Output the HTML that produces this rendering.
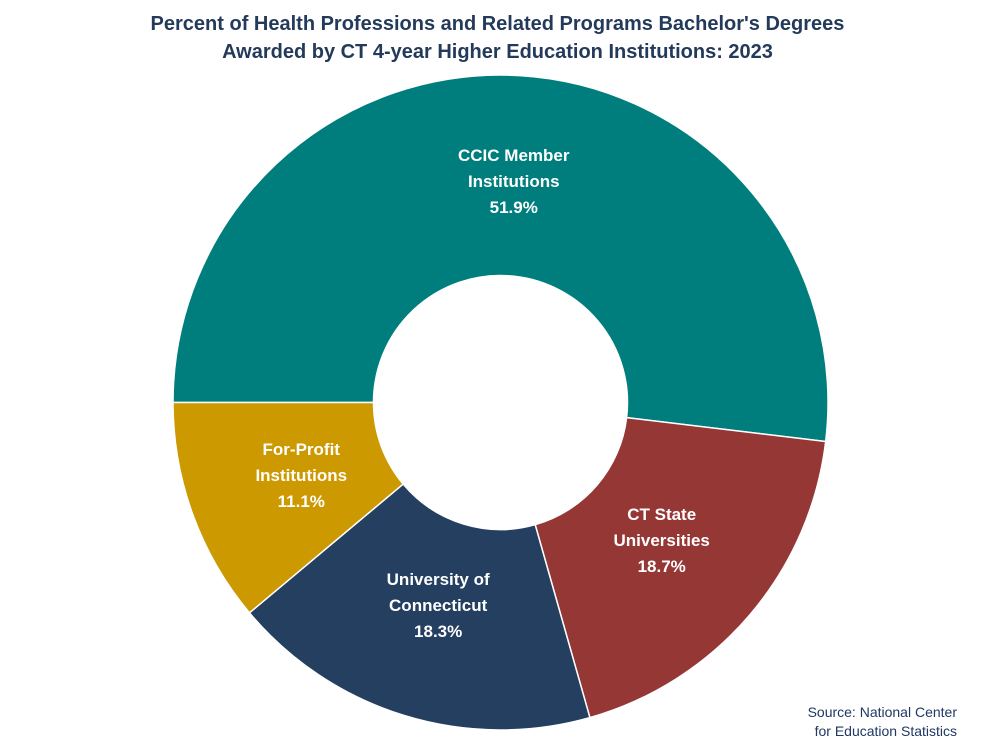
<!DOCTYPE html>
<html><head><meta charset="utf-8"><style>
body{margin:0;background:#fff;font-family:"Liberation Sans",sans-serif;}
#wrap{position:relative;width:995px;height:755px;overflow:hidden;}
.title{position:absolute;top:10px;left:0;width:995px;text-align:center;font-weight:bold;font-size:20px;line-height:28px;color:#243A5A;}
.src{position:absolute;right:38px;top:703px;text-align:right;font-size:14px;line-height:19px;color:#1F3864;}
</style></head><body>
<div id="wrap">
<div class="title">Percent of Health Professions and Related Programs Bachelor's Degrees<br>Awarded by CT 4-year Higher Education Institutions: 2023</div>
<svg id="svg" width="995" height="755" style="position:absolute;left:0;top:0"></svg>
<div class="src">Source: National Center<br>for Education Statistics</div>
</div>
<script>
const categories=[["CCIC Member","Institutions"],["CT State","Universities"],["University of","Connecticut"],["For-Profit","Institutions"]];
const values=[51.9,18.7,18.3,11.1];
const valueLabels=["51.9%","18.7%","18.3%","11.1%"];
const colors=["#007E7E","#953735","#243F60","#CC9900"];
const cx=500.5,cy=402.5,R=327.5,r=127,startDeg=270;
const svg=document.getElementById('svg');
const NS="http://www.w3.org/2000/svg";
const total=values.reduce((a,b)=>a+b,0);
function pt(rad,deg){const a=deg*Math.PI/180;return [cx+rad*Math.sin(a),cy-rad*Math.cos(a)];}
let ang=startDeg;
values.forEach((v,i)=>{
  const sweep=v/total*360,a0=ang,a1=ang+sweep;ang=a1;
  const [x0,y0]=pt(R,a0),[x1,y1]=pt(R,a1),[x2,y2]=pt(r,a1),[x3,y3]=pt(r,a0);
  const lg=sweep>180?1:0;
  const p=document.createElementNS(NS,'path');
  p.setAttribute('d',`M${x0},${y0}A${R},${R} 0 ${lg} 1 ${x1},${y1}L${x2},${y2}A${r},${r} 0 ${lg} 0 ${x3},${y3}Z`);
  p.setAttribute('fill',colors[i]);p.setAttribute('stroke','#fff');p.setAttribute('stroke-width','1.5');
  
  
  svg.appendChild(p);
  const mid=(a0+a1)/2;const lr=i==0?222:212;
  const [lx,ly]=pt(lr,mid);
  const t=document.createElementNS(NS,'text');
  t.setAttribute('text-anchor','middle');t.setAttribute('fill','#fff');
  t.setAttribute('font-weight','bold');t.setAttribute('font-size','17');
  t.setAttribute('font-family','"Liberation Sans",sans-serif');
  
  
  const lines=[categories[i][0],categories[i][1],valueLabels[i]];
  lines.forEach((s,k)=>{const ts=document.createElementNS(NS,'tspan');ts.setAttribute('x',lx);ts.setAttribute('y',ly-20+k*26);ts.textContent=s;t.appendChild(ts);});
  svg.appendChild(t);
});
</script>
</body></html>
